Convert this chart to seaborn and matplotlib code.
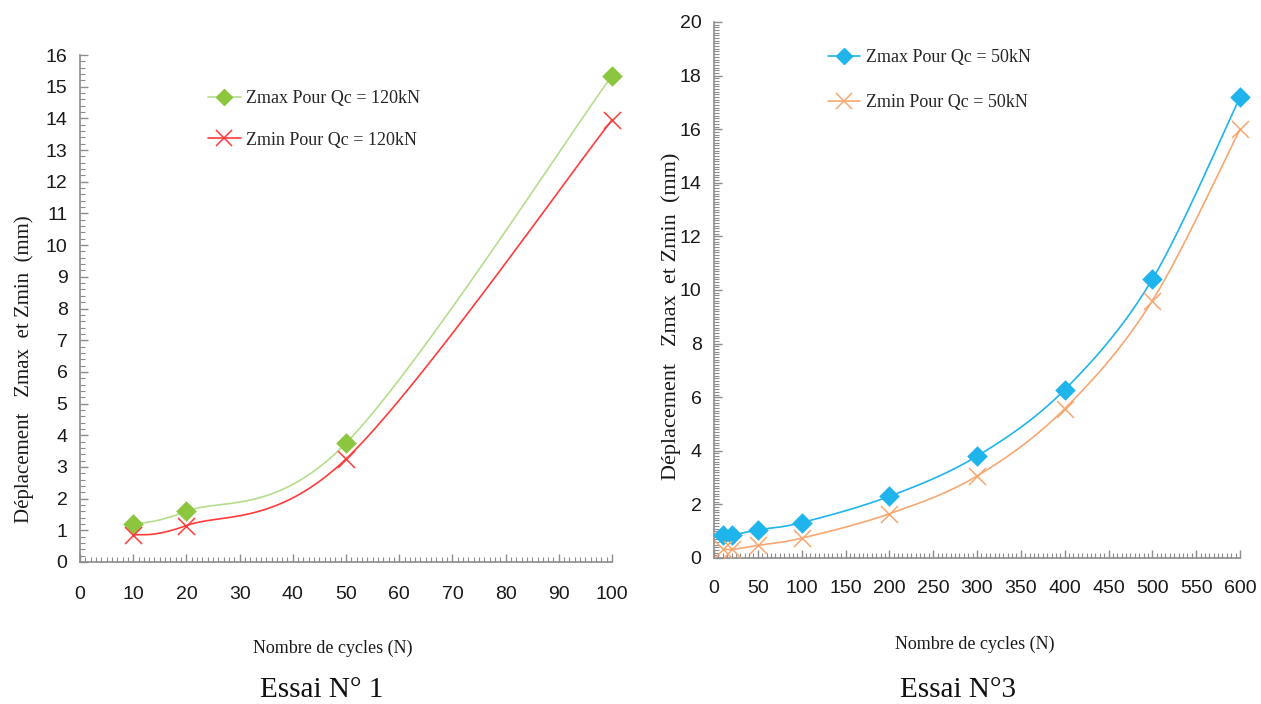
import numpy as np
import matplotlib
matplotlib.use("Agg")
import matplotlib.pyplot as plt
from matplotlib.lines import Line2D
from matplotlib.ticker import MultipleLocator
import seaborn as sns

# Essai N° 1 : Qc = 120 kN
cycles_1 = [10, 20, 50, 100]
zmax_1 = [1.2, 1.6, 3.75, 15.35]
zmin_1 = [0.85, 1.15, 3.25, 13.95]

# Essai N° 3 : Qc = 50 kN
cycles_3 = [10, 20, 50, 100, 200, 300, 400, 500, 600]
zmax_3 = [0.85, 0.85, 1.05, 1.32, 2.3, 3.8, 6.28, 10.4, 17.2]
zmin_3 = [0.35, 0.32, 0.47, 0.74, 1.65, 3.06, 5.57, 9.6, 16.0]

labels_1 = ["Zmax Pour Qc = 120kN", "Zmin Pour Qc = 120kN"]
labels_3 = ["Zmax Pour Qc = 50kN", "Zmin Pour Qc = 50kN"]

GREEN_LINE, GREEN_MK = "#b4de8c", "#8cc63f"
RED = "#ff3b3b"
BLUE = "#1fb4ec"
ORANGE = "#f7a872"

sns.set_theme(style="white")
plt.rcParams["font.family"] = ["Liberation Sans Narrow", "Liberation Sans", "DejaVu Sans"]
SERIF = ["Liberation Serif", "DejaVu Serif"]
LW = 1.2


def smooth(x, y, n=40):
    """Excel-style smoothed line: cubic Bezier segments through each point."""
    x = np.asarray(x, float)
    y = np.asarray(y, float)
    p = np.column_stack([x, y])
    out = []
    m = len(p)
    t = np.linspace(0, 1, n)[:, None]
    for i in range(m - 1):
        p0 = p[i - 1] if i > 0 else p[i]
        p1, p2 = p[i], p[i + 1]
        p3 = p[i + 2] if i + 2 < m else p[i + 1]
        c1 = p1 + (p2 - p0) / 6.0
        c2 = p2 - (p3 - p1) / 6.0
        seg = ((1 - t) ** 3) * p1 + 3 * ((1 - t) ** 2) * t * c1 + 3 * (1 - t) * t ** 2 * c2 + t ** 3 * p2
        out.append(seg if i == 0 else seg[1:])
    s = np.vstack(out)
    return s[:, 0], s[:, 1]


def draw_series(ax, x, y, line_color, mk_color, marker, size):
    sx, sy = smooth(x, y)
    sns.lineplot(x=sx, y=sy, ax=ax, color=line_color, lw=LW, sort=False,
                 estimator=None, legend=False)
    if marker == "D":
        sns.scatterplot(x=x, y=y, ax=ax, color=mk_color, marker="D", s=size,
                        edgecolor=mk_color, linewidth=0, legend=False, zorder=3,
                        clip_on=False)
    else:
        sns.scatterplot(x=x, y=y, ax=ax, color=mk_color, marker="x", s=size,
                        linewidth=1.1, legend=False, zorder=3, clip_on=False)


def style_axes(ax, xmax, xmaj, xmin_, ymax, ymaj, ymin_, xpad, ypad):
    ax.set_xlim(0, xmax)
    ax.set_ylim(0, ymax)
    ax.xaxis.set_major_locator(MultipleLocator(xmaj))
    ax.xaxis.set_minor_locator(MultipleLocator(xmin_))
    ax.yaxis.set_major_locator(MultipleLocator(ymaj))
    ax.yaxis.set_minor_locator(MultipleLocator(ymin_))
    for side in ("top", "right"):
        ax.spines[side].set_visible(False)
    for side in ("left", "bottom"):
        ax.spines[side].set_color("#8c8c8c")
        ax.spines[side].set_linewidth(1.2)
    ax.tick_params(which="both", direction="in", colors="#8c8c8c",
                   labelcolor="#1a1a1a", labelsize=14)
    ax.tick_params(which="major", length=6, width=1)
    ax.tick_params(which="minor", length=3.5, width=0.8)
    ax.tick_params(axis="x", which="both", bottom=True, pad=xpad)
    ax.tick_params(axis="y", which="both", left=True, pad=ypad)
    ax.grid(False)


def add_legend(ax, labels, colors, mk_colors, markers, anchor, spacing):
    handles = []
    for c, mc, m in zip(colors, mk_colors, markers):
        if m == "D":
            handles.append(Line2D([], [], color=c, lw=LW, marker="D", markersize=8,
                                  markerfacecolor=mc, markeredgecolor=mc))
        else:
            handles.append(Line2D([], [], color=c, lw=LW, marker="x", markersize=11,
                                  markeredgecolor=mc, markeredgewidth=1.1))
    ax.legend(handles, labels, loc="upper left", bbox_to_anchor=anchor,
              frameon=False, handlelength=1.8, handletextpad=0.3,
              labelspacing=spacing, borderpad=0.2, borderaxespad=0.0,
              prop={"family": SERIF, "size": 13})


fig = plt.figure(figsize=(12.61, 7.04), dpi=100)
fig.patch.set_facecolor("white")

ax1 = fig.add_axes([80 / 1261, 1 - 562 / 704, 532 / 1261, 507 / 704])
ax3 = fig.add_axes([714 / 1261, 1 - 558 / 704, 526 / 1261, 536 / 704])

# Essai N° 1
draw_series(ax1, cycles_1, zmax_1, GREEN_LINE, GREEN_MK, "D", 110)
draw_series(ax1, cycles_1, zmin_1, RED, RED, "x", 150)
style_axes(ax1, 100, 10, 1, 16, 1, 0.2, 17, 9)
add_legend(ax1, labels_1, [GREEN_LINE, RED], [GREEN_MK, RED], ["D", "x"],
           (0.234, 0.9375), 1.35)

# Essai N° 3
draw_series(ax3, cycles_3, zmax_3, BLUE, BLUE, "D", 110)
draw_series(ax3, cycles_3, zmin_3, ORANGE, ORANGE, "x", 150)
style_axes(ax3, 600, 50, 5, 20, 2, 0.1, 16, 9)
add_legend(ax3, labels_3, [BLUE, ORANGE], [BLUE, ORANGE], ["D", "x"],
           (0.2095, 0.956), 1.55)

ylabel = "Déplacement   Zmax  et Zmin  (mm)"
xlabel = "Nombre de cycles (N)"
for ax, yfs, ycoords, xcoords in (
    (ax1, 15, (-0.087, 0.381), (0.4756, -0.154)),
    (ax3, 16, (-0.063, 0.451), (0.496, -0.1455)),
):
    ax.set_ylabel(ylabel, family=SERIF, fontsize=yfs, color="#1a1a1a")
    ax.yaxis.set_label_coords(*ycoords)
    ax.set_xlabel(xlabel, family=SERIF, fontsize=13, color="#1a1a1a")
    ax.xaxis.set_label_coords(*xcoords)

fig.text(322 / 1261, 1 - 690 / 704, "Essai N° 1", family=SERIF, fontsize=21,
         ha="center", va="center", color="#111111")
fig.text(958 / 1261, 1 - 690 / 704, "Essai N°3", family=SERIF, fontsize=21,
         ha="center", va="center", color="#111111")

fig.savefig("out.png", dpi=100, facecolor="white")
